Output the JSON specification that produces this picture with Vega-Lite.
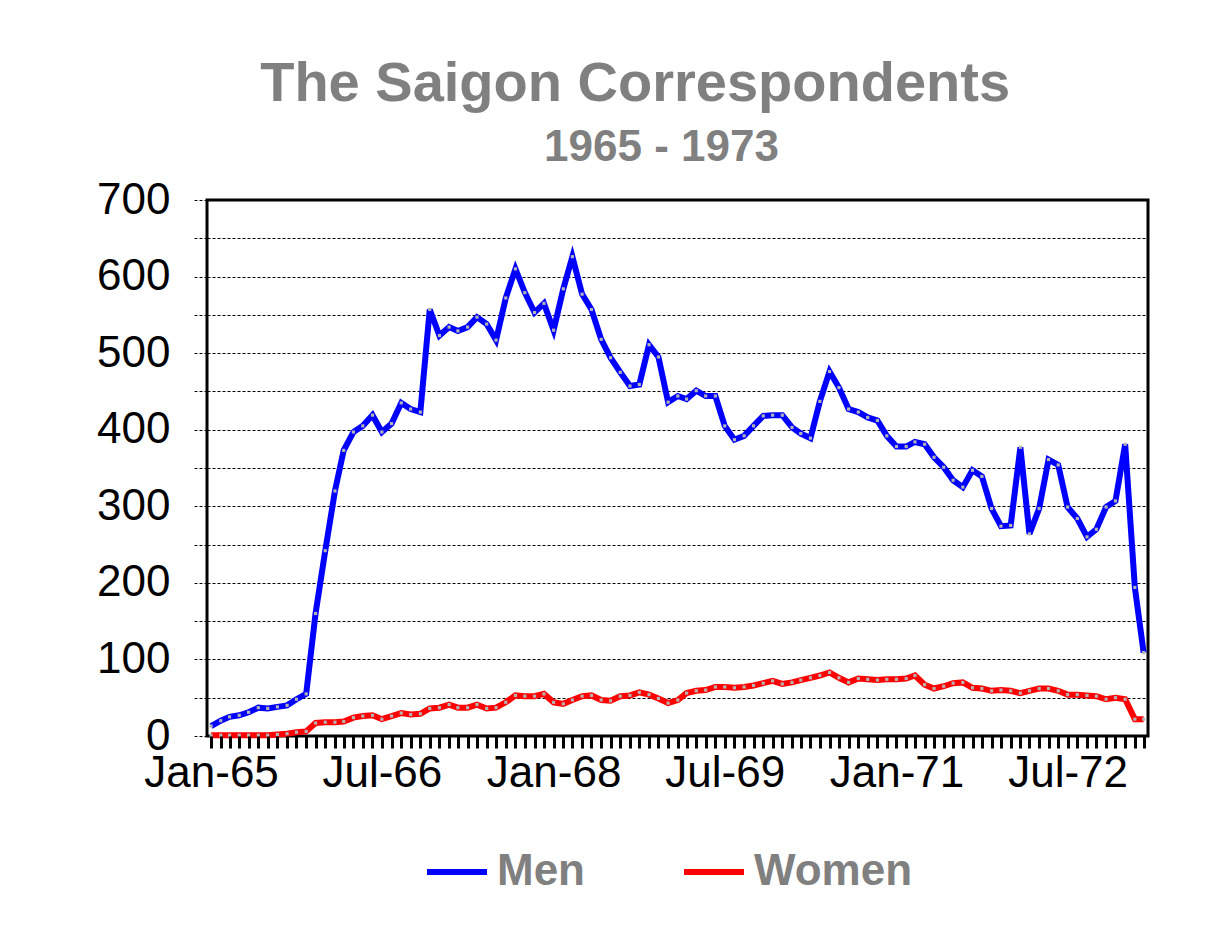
{
  "$schema": "https://vega.github.io/schema/vega-lite/v6.json",
  "autosize": {"type": "pad"},
  "padding": {"left": 95, "top": 55, "right": 70, "bottom": 30},
  "background": "white",
  "title": {
    "text": "The Saigon Correspondents",
    "anchor": "middle",
    "frame": "bounds",
    "dx": 9,
    "offset": 12,
    "font": "Liberation Sans",
    "fontSize": 56,
    "fontWeight": "bold",
    "color": "#808080"
  },
  "config": {
    "view": {"stroke": "black", "strokeWidth": 3},
    "font": "Liberation Sans"
  },
  "resolve": {"legend": {"color": "independent"}},
  "vconcat": [
    {
      "width": 941,
      "height": 536,
      "title": {
        "text": "1965 - 1973",
        "anchor": "middle",
        "frame": "group",
        "dx": -16,
        "offset": 8,
        "font": "Liberation Sans",
        "fontSize": 44,
        "fontWeight": "bold",
        "color": "#808080"
      },
      "data": {
        "values": [
          {"month": "1965-01", "Men": 13, "Women": 1},
          {"month": "1965-02", "Men": 20, "Women": 1},
          {"month": "1965-03", "Men": 25, "Women": 1},
          {"month": "1965-04", "Men": 27, "Women": 1},
          {"month": "1965-05", "Men": 31, "Women": 1},
          {"month": "1965-06", "Men": 37, "Women": 1},
          {"month": "1965-07", "Men": 36, "Women": 1},
          {"month": "1965-08", "Men": 38, "Women": 2},
          {"month": "1965-09", "Men": 40, "Women": 3},
          {"month": "1965-10", "Men": 48, "Women": 5},
          {"month": "1965-11", "Men": 55, "Women": 6},
          {"month": "1965-12", "Men": 160, "Women": 17},
          {"month": "1966-01", "Men": 242, "Women": 18},
          {"month": "1966-02", "Men": 320, "Women": 18},
          {"month": "1966-03", "Men": 373, "Women": 19},
          {"month": "1966-04", "Men": 397, "Women": 24},
          {"month": "1966-05", "Men": 405, "Women": 26},
          {"month": "1966-06", "Men": 419, "Women": 27},
          {"month": "1966-07", "Men": 397, "Women": 22},
          {"month": "1966-08", "Men": 408, "Women": 26},
          {"month": "1966-09", "Men": 435, "Women": 30},
          {"month": "1966-10", "Men": 427, "Women": 28},
          {"month": "1966-11", "Men": 423, "Women": 29},
          {"month": "1966-12", "Men": 557, "Women": 36},
          {"month": "1967-01", "Men": 523, "Women": 37},
          {"month": "1967-02", "Men": 534, "Women": 41},
          {"month": "1967-03", "Men": 529, "Women": 37},
          {"month": "1967-04", "Men": 534, "Women": 37},
          {"month": "1967-05", "Men": 547, "Women": 41},
          {"month": "1967-06", "Men": 538, "Women": 36},
          {"month": "1967-07", "Men": 517, "Women": 37},
          {"month": "1967-08", "Men": 572, "Women": 44},
          {"month": "1967-09", "Men": 610, "Women": 53},
          {"month": "1967-10", "Men": 579, "Women": 52},
          {"month": "1967-11", "Men": 553, "Women": 52},
          {"month": "1967-12", "Men": 565, "Women": 55},
          {"month": "1968-01", "Men": 530, "Women": 44},
          {"month": "1968-02", "Men": 584, "Women": 42},
          {"month": "1968-03", "Men": 626, "Women": 47},
          {"month": "1968-04", "Men": 577, "Women": 52},
          {"month": "1968-05", "Men": 557, "Women": 53},
          {"month": "1968-06", "Men": 518, "Women": 47},
          {"month": "1968-07", "Men": 494, "Women": 46},
          {"month": "1968-08", "Men": 475, "Women": 52},
          {"month": "1968-09", "Men": 457, "Women": 53},
          {"month": "1968-10", "Men": 459, "Women": 57},
          {"month": "1968-11", "Men": 511, "Women": 54},
          {"month": "1968-12", "Men": 495, "Women": 49},
          {"month": "1969-01", "Men": 436, "Women": 43},
          {"month": "1969-02", "Men": 444, "Women": 47},
          {"month": "1969-03", "Men": 440, "Women": 56},
          {"month": "1969-04", "Men": 451, "Women": 59},
          {"month": "1969-05", "Men": 444, "Women": 60},
          {"month": "1969-06", "Men": 444, "Women": 64},
          {"month": "1969-07", "Men": 405, "Women": 64},
          {"month": "1969-08", "Men": 387, "Women": 63},
          {"month": "1969-09", "Men": 392, "Women": 64},
          {"month": "1969-10", "Men": 405, "Women": 66},
          {"month": "1969-11", "Men": 418, "Women": 69},
          {"month": "1969-12", "Men": 419, "Women": 72},
          {"month": "1970-01", "Men": 419, "Women": 68},
          {"month": "1970-02", "Men": 403, "Women": 70},
          {"month": "1970-03", "Men": 395, "Women": 73},
          {"month": "1970-04", "Men": 389, "Women": 76},
          {"month": "1970-05", "Men": 437, "Women": 79},
          {"month": "1970-06", "Men": 476, "Women": 83},
          {"month": "1970-07", "Men": 455, "Women": 76},
          {"month": "1970-08", "Men": 427, "Women": 70},
          {"month": "1970-09", "Men": 423, "Women": 75},
          {"month": "1970-10", "Men": 416, "Women": 74},
          {"month": "1970-11", "Men": 412, "Women": 73},
          {"month": "1970-12", "Men": 392, "Women": 74},
          {"month": "1971-01", "Men": 378, "Women": 74},
          {"month": "1971-02", "Men": 378, "Women": 75},
          {"month": "1971-03", "Men": 384, "Women": 79},
          {"month": "1971-04", "Men": 381, "Women": 67},
          {"month": "1971-05", "Men": 364, "Women": 62},
          {"month": "1971-06", "Men": 351, "Women": 65},
          {"month": "1971-07", "Men": 334, "Women": 69},
          {"month": "1971-08", "Men": 325, "Women": 70},
          {"month": "1971-09", "Men": 347, "Women": 63},
          {"month": "1971-10", "Men": 339, "Women": 62},
          {"month": "1971-11", "Men": 297, "Women": 59},
          {"month": "1971-12", "Men": 274, "Women": 60},
          {"month": "1972-01", "Men": 275, "Women": 59},
          {"month": "1972-02", "Men": 377, "Women": 56},
          {"month": "1972-03", "Men": 264, "Women": 59},
          {"month": "1972-04", "Men": 297, "Women": 62},
          {"month": "1972-05", "Men": 361, "Women": 62},
          {"month": "1972-06", "Men": 354, "Women": 59},
          {"month": "1972-07", "Men": 299, "Women": 54},
          {"month": "1972-08", "Men": 284, "Women": 54},
          {"month": "1972-09", "Men": 260, "Women": 53},
          {"month": "1972-10", "Men": 270, "Women": 52},
          {"month": "1972-11", "Men": 299, "Women": 48},
          {"month": "1972-12", "Men": 307, "Women": 50},
          {"month": "1973-01", "Men": 381, "Women": 48},
          {"month": "1973-02", "Men": 194, "Women": 22},
          {"month": "1973-03", "Men": 109, "Women": 22}
        ]
      },
      "transform": [{"fold": ["Men", "Women"], "as": ["series", "count"]}],
      "encoding": {
        "x": {
          "field": "month",
          "type": "temporal",
          "scale": {
            "type": "utc",
            "domain": [
              {"year": 1964, "month": 12, "date": 19, "utc": true},
              {"year": 1973, "month": 3, "date": 15, "utc": true}
            ]
          },
          "axis": {
            "title": null,
            "tickCount": {"interval": "month", "step": 1},
            "labelExpr": "((utcyear(datum.value) - 1965) * 12 + utcmonth(datum.value)) % 18 === 0 ? utcFormat(datum.value, '%b-%y') : ''",
            "labelOverlap": false,
            "labelFlush": false,
            "labelBound": false,
            "labelAngle": 0,
            "domain": false,
            "grid": false,
            "tickSize": 12,
            "tickWidth": 3,
            "tickColor": "black",
            "labelFont": "Liberation Sans",
            "labelFontSize": 44,
            "labelColor": "black",
            "labelPadding": 3,
            "zindex": 1,
            "encode": {
              "ticks": {"update": {"y": {"value": -10}, "y2": {"value": 12}}}
            }
          }
        },
        "y": {
          "field": "count",
          "type": "quantitative",
          "scale": {"domain": [0, 700], "nice": false},
          "axis": {
            "title": null,
            "values": [0, 50, 100, 150, 200, 250, 300, 350, 400, 450, 500, 550, 600, 650, 700],
            "labelExpr": "datum.value % 100 === 0 ? datum.label : ''",
            "labelOverlap": false,
            "labelBound": false,
            "labelFlush": false,
            "grid": true,
            "gridColor": "black",
            "gridDash": [3, 2],
            "gridWidth": 1,
            "domain": false,
            "tickSize": 14,
            "tickColor": "black",
            "tickDash": [3, 2],
            "tickWidth": 1,
            "labelFont": "Liberation Sans",
            "labelFontSize": 44,
            "labelColor": "black",
            "labelPadding": 23,
            "encode": {
              "ticks": {"update": {"x2": {"signal": "datum.value % 100 === 0 ? -14 : -9"}}}
            }
          }
        }
      },
      "layer": [
        {
          "mark": {"type": "line", "strokeWidth": 6},
          "encoding": {
            "color": {
              "field": "series",
              "type": "nominal",
              "scale": {"domain": ["Men", "Women"], "range": ["#0000ff", "#ff0000"]},
              "legend": {
                "orient": "none",
                "legendX": 217,
                "legendY": 639,
                "direction": "horizontal",
                "title": null,
                "symbolType": "stroke",
                "symbolSize": 3600,
                "symbolStrokeWidth": 6,
                "labelFont": "Liberation Sans",
                "labelFontSize": 44,
                "labelFontWeight": "bold",
                "labelColor": "#808080",
                "labelOffset": 7,
                "labelLimit": 400,
                "columnPadding": 87,
                "padding": 0
              }
            }
          }
        },
        {
          "mark": {"type": "point", "shape": "square", "filled": true, "size": 10, "color": "#b4b4b4", "opacity": 1},
          "encoding": {}
        }
      ]
    }
  ]
}
